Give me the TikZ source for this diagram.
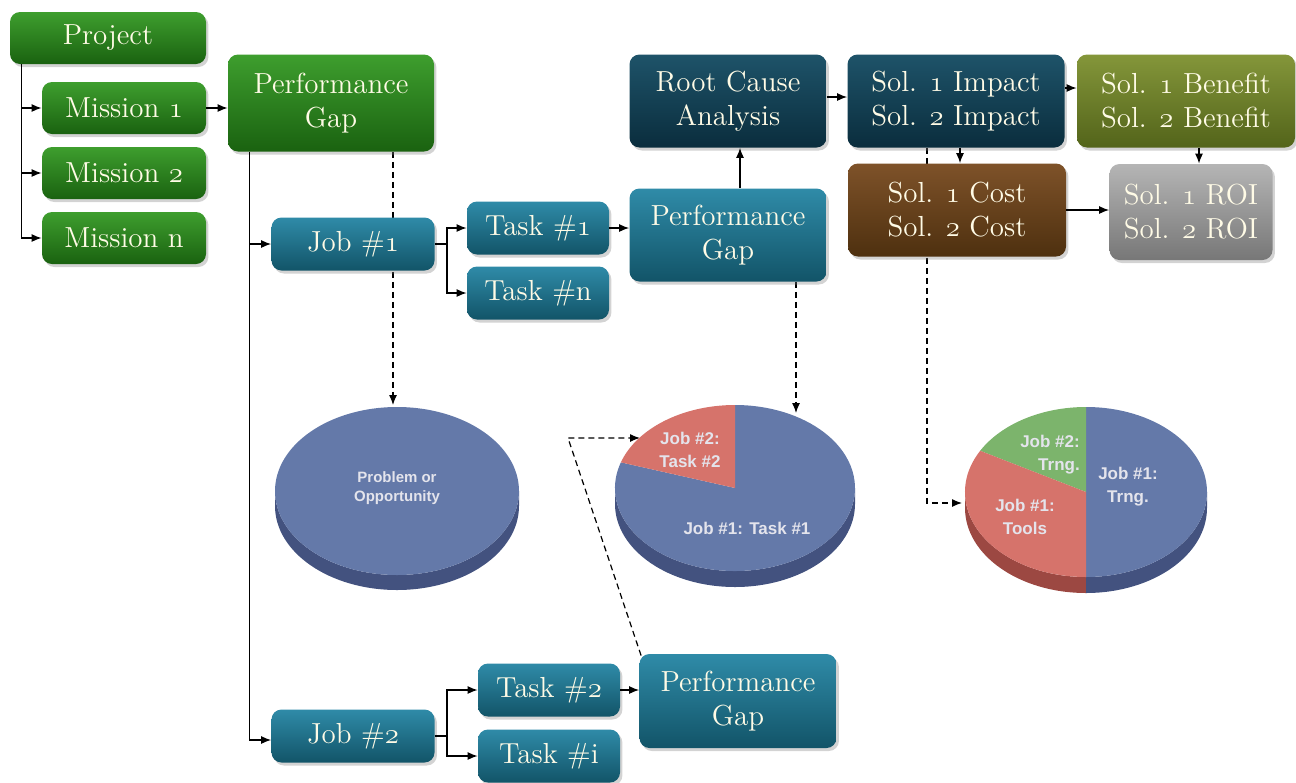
\documentclass[tikz,border=0pt]{standalone}
\usepackage{fontspec}
\newfontfamily\piefont{Liberation Sans}
\usepackage{tikz}
\usetikzlibrary{arrows.meta,calc,shadows}
\definecolor{crema}{HTML}{FFFBE6}
\definecolor{verdeA}{HTML}{3E9E2E}
\definecolor{verdeB}{HTML}{1A6210}
\definecolor{tealA}{HTML}{2F8BA8}
\definecolor{tealB}{HTML}{125468}
\definecolor{notteA}{HTML}{1E5369}
\definecolor{notteB}{HTML}{0A2D3D}
\definecolor{olivaA}{HTML}{84963A}
\definecolor{olivaB}{HTML}{53641A}
\definecolor{bruno}{HTML}{7E5229}
\definecolor{brunoB}{HTML}{4E300F}
\definecolor{grigioA}{HTML}{B5B5B5}
\definecolor{grigioB}{HTML}{777777}
\definecolor{torta}{HTML}{6479A9}
\definecolor{tortaB}{HTML}{43527F}
\definecolor{fetta}{HTML}{D6736B}
\definecolor{fettaB}{HTML}{9C4842}
\definecolor{erba}{HTML}{7CB46C}
\definecolor{scritta}{HTML}{E4E4EC}
\newcommand{\onum}[1]{{\usefont{OML}{cmm}{m}{it}#1}}
\tikzset{
>={Latex[length=5pt,width=4pt]},
scatola/.style={rounded corners=5pt,text=crema,align=center,inner sep=2pt,
  font=\fontsize{14.5}{17}\selectfont,
  drop shadow={shadow xshift=1.2pt,shadow yshift=-1.5pt,opacity=.35}},
verde/.style={scatola,top color=verdeA,bottom color=verdeB},
acqua/.style={scatola,top color=tealA,bottom color=tealB},
notte/.style={scatola,top color=notteA,bottom color=notteB},
oliva/.style={scatola,top color=olivaA,bottom color=olivaB},
terra/.style={scatola,top color=bruno,bottom color=brunoB},
grigio/.style={scatola,top color=grigioA,bottom color=grigioB},
freccia/.style={->,semithick},
tratteggio/.style={->,semithick,dash pattern=on 3pt off 2pt},
etichetta/.style={text=scritta,font=\piefont\bfseries\fontsize{8.5}{11.5}\selectfont}}
\pgfdeclarelayer{sfondo}
\pgfsetlayers{sfondo,main}

\begin{document}
\begin{tikzpicture}[x=0.5pt,y=-0.5pt]
\useasboundingbox (0,0) rectangle (1296,782);

% left column
\node[verde,minimum width=98pt,minimum height=26pt] (proj) at (108,38) {Project};
\node[verde,minimum width=82pt,minimum height=26pt] (m1) at (124,108) {Mission \onum{1}};
\node[verde,minimum width=82pt,minimum height=26pt] (m2) at (124,173) {Mission \onum{2}};
\node[verde,minimum width=82pt,minimum height=26pt] (mn) at (124,238) {Mission n};
\node[verde,minimum width=103pt,minimum height=48.5pt] (pg1) at (331,103) {Performance\\Gap};

% jobs and tasks
\node[acqua,minimum width=81.5pt,minimum height=26.5pt] (job1) at (353,244) {Job \#\onum{1}};
\node[acqua,minimum width=71pt,minimum height=26.5pt] (task1) at (538,228) {Task \#\onum{1}};
\node[acqua,minimum width=71pt,minimum height=26.5pt] (taskn) at (538,293) {Task \#n};
\node[acqua,minimum width=98.5pt,minimum height=46.5pt] (pg2) at (728,235) {Performance\\Gap};
\node[acqua,minimum width=81.5pt,minimum height=26.5pt] (job2) at (353,736) {Job \#\onum{2}};
\node[acqua,minimum width=71pt,minimum height=26.5pt] (task2) at (549,690) {Task \#\onum{2}};
\node[acqua,minimum width=71pt,minimum height=26.5pt] (taski) at (549,756) {Task \#i};
\node[acqua,minimum width=98.5pt,minimum height=47pt] (pg3) at (738,701) {Performance\\Gap};

% analysis
\node[notte,minimum width=98.5pt,minimum height=46.5pt] (rca) at (728,101) {Root Cause\\Analysis};
\node[notte,minimum width=108.5pt,minimum height=46.5pt] (imp) at (956,101) {Sol. \onum{1} Impact\\Sol. \onum{2} Impact};
\node[oliva,minimum width=109pt,minimum height=46.5pt] (ben) at (1186,101) {Sol. \onum{1} Benefit\\Sol. \onum{2} Benefit};
\node[terra,minimum width=109pt,minimum height=46.5pt] (cost) at (957,210) {Sol. \onum{1} Cost\\Sol. \onum{2} Cost};
\node[grigio,minimum width=81.5pt,minimum height=48pt] (roi) at (1191,212) {Sol. \onum{1} ROI\\Sol. \onum{2} ROI};

% pies
\begin{scope}[shift={(397,491)}]
\fill[tortaB] (122,0) arc[start angle=0,end angle=180,x radius=122,y radius=84] -- ++(0,15)
  arc[start angle=180,end angle=0,x radius=122,y radius=84] -- cycle;
\fill[torta] (0,0) ellipse[x radius=122,y radius=84];
\node[etichetta,align=center,font=\piefont\bfseries\fontsize{7.5}{9.5}\selectfont] (p1) at (0,-3) {Problem or\\Opportunity};
\end{scope}

\begin{scope}[shift={(735,488)}]
\fill[tortaB] (120,0) arc[start angle=0,end angle=180,x radius=120,y radius=83] -- ++(0,16)
  arc[start angle=180,end angle=0,x radius=120,y radius=83] -- cycle;
\fill[torta] (0,0) -- (-162:120 and 83) arc[start angle=-162,end angle=-450,x radius=120,y radius=83] -- cycle;
\fill[fetta] (0,0) -- (-90:120 and 83) arc[start angle=-90,end angle=-162,x radius=120,y radius=83] -- cycle;
\node[etichetta,align=center] (p2a) at (-45,-38) {Job \#2:\\Task \#2};
\node[etichetta] (p2b) at (12,40) {Job \#1: Task \#1};
\end{scope}

\begin{scope}[shift={(1086,492)}]
\fill[fettaB] (-121,0) arc[start angle=180,end angle=90,x radius=121,y radius=85] -- ++(0,16)
  arc[start angle=90,end angle=180,x radius=121,y radius=85] -- cycle;
\fill[tortaB] (0,85) arc[start angle=90,end angle=0,x radius=121,y radius=85] -- ++(0,16)
  arc[start angle=0,end angle=90,x radius=121,y radius=85] -- cycle;
\fill[torta] (0,0) -- (90:121 and 85) arc[start angle=90,end angle=-90,x radius=121,y radius=85] -- cycle;
\fill[erba] (0,0) -- (-90:121 and 85) arc[start angle=-90,end angle=-151,x radius=121,y radius=85] -- cycle;
\fill[fetta] (0,0) -- (-151:121 and 85) arc[start angle=-151,end angle=-270,x radius=121,y radius=85] -- cycle;
\node[etichetta,align=right] (p3a) at (-36,-37) {Job \#2:\\Trng.};
\node[etichetta,align=center] (p3b) at (42,-5) {Job \#1:\\Trng.};
\node[etichetta,align=center] (p3c) at (-61,25) {Job \#1:\\Tools};
\end{scope}

\coordinate (t1) at (393,405);
\coordinate (t2) at (796,413);
\coordinate (g2) at (640,438);
\coordinate (a2) at (568,438);
\coordinate (t3) at (962,503);
\coordinate (a3) at (927,503);

% solid connectors
\draw[freccia] ([xshift=6pt]proj.south west) |- (m1);
\draw[freccia] ([xshift=6pt]proj.south west) |- (m2);
\draw[freccia] ([xshift=6pt]proj.south west) |- (mn);
\draw[freccia] (m1.east) -- (m1.east -| pg1.west);
\draw[freccia] ([xshift=11pt]pg1.south west) |- (job1);
\draw[freccia] ([xshift=11pt]pg1.south west) |- ([yshift=-2pt]job2.west);
\draw[freccia] (job1.east) -- ++(6pt,0) |- (task1);
\draw[freccia] (job1.east) -- ++(6pt,0) |- (taskn);
\draw[freccia] (task1.east) -- (task1.east -| pg2.west);
\draw[freccia] ([xshift=6pt]pg2.north) -- ([xshift=6pt]rca.south);
\draw[freccia] ([yshift=2pt]rca.east) -- ([yshift=2pt]rca.east -| imp.west);
\draw[freccia] ([yshift=6.5pt]imp.east) -- ([yshift=6.5pt]imp.east -| ben.west);
\draw[freccia] ([xshift=2pt]imp.south) -- ([xshift=2pt]imp.south |- cost.north);
\draw[freccia] ([xshift=6.5pt]ben.south) -- ([xshift=6.5pt]ben.south |- roi.north);
\draw[freccia] (cost.east) -- (cost.east -| roi.west);
\draw[freccia] (job2.east) -- ++(6pt,0) |- (task2);
\draw[freccia] (job2.east) -- ++(6pt,0) |- (taski);
\draw[freccia] (task2.east) -- (task2.east -| pg3.west);

% dashed connectors
\begin{pgfonlayer}{sfondo}
\draw[tratteggio] (t1 |- pg1.south) -- (t1);
\draw[tratteggio] (t2 |- pg2.south) -- (t2);
\draw[tratteggio] ([shift={(1pt,-1pt)}]pg3.north west) -- (a2) -- (g2);
\draw[tratteggio] (a3 |- imp.south) -- (a3) -- (t3);
\end{pgfonlayer}

\end{tikzpicture}
\end{document}
